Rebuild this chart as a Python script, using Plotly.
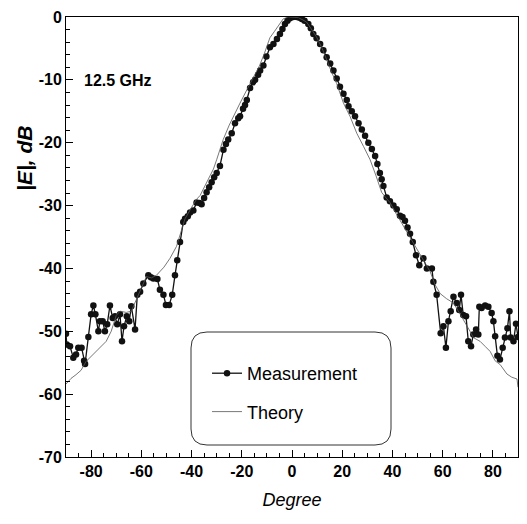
import plotly.graph_objects as go

# Measurement (degree, dB)
meas_deg = [-90, -89.7, -88.4, -87.1, -86, -85.1, -83.8, -82.8, -82.4, -81.1, -80, -79.1, -78.3,
            -77.1, -76.5, -75.4, -74.5, -73.6, -72.5, -71.4, -70.5, -69.6, -68.5, -67.7, -66.9,
            -65.8, -64.8, -64, -62.5, -61.6, -60.5, -59.2, -57.2, -56.2, -55.2, -53.6, -52.6, -51.2,
            -50.2, -48.9, -47.7, -46.6, -45.7, -44.6, -43.3, -42.6, -41.5, -40.6, -39.3, -38,
            -36.8, -36, -35, -34, -33, -32, -31, -30, -28.7, -27.3, -26.3, -25.4, -24, -22.7,
            -21.4, -20.7, -19.5, -18.7, -18, -16.7, -15.5, -14.7, -13.5, -12.7, -11.4, -10.2,
            -8.8, -7.4, -6, -4.8, -3.8, -2.8, -1.8, -0.8, 0.5, 1.9, 3, 3.9, 5, 6.5, 7.5, 8.5,
            9.8, 11.2, 12.5, 13.8, 15.2, 16.5, 17.8, 19.1, 20.5, 21.8, 22.5, 23.8, 25.1, 26.5,
            27.8, 29.1, 30.4, 31.8, 33.1, 34, 35, 35.7, 36.4, 37.7, 39, 40.4, 41.7, 43, 44, 45,
            46, 47, 48.1, 49.4, 50.7, 52.3, 53.7, 55.7, 56.3, 57.6, 59.2, 60.3, 61.3, 62.3, 63.2,
            64.3, 65.6, 66.6, 67.3, 68.2, 69.3, 70.2, 71.3, 72.2, 73.3, 74.2, 74.6, 75.5, 76.9,
            78.2, 79.5, 80.2, 80.9, 81.8, 82.8, 83.9, 84.8, 85.8, 86.6, 87.1, 88.2, 89.2, 90]
meas_db = [-50.4, -52.1, -52.4, -54.2, -53.7, -52.6, -52.6, -54.7, -55.2, -50.9, -47.3, -45.9, -47.3,
           -50.0, -48.4, -48.4, -50.0, -48.9, -45.9, -47.9, -47.6, -48.9, -47.3, -51.6, -49.2,
           -47.6, -48.4, -46.0, -49.7, -44.2, -43.7, -42.4, -41.1, -41.4, -41.6, -41.7, -43.4, -44.2,
           -45.8, -45.8, -44.2, -41.1, -38.7, -35.8, -32.6, -32.1, -31.7, -31.1, -30.8, -29.5,
           -29.6, -29.8, -28.8, -27.9, -27.1, -26.3, -25.5, -24.8, -23.7, -21.1, -20.2, -19.5, -18.5,
           -16.9, -16.1, -15.8, -14.6, -14.0, -13.2, -11.3, -10.4, -10.0, -9.2, -8.5, -7.7, -6.3,
           -4.8, -4.3, -3.5, -2.7, -1.9, -1.1, -0.6, -0.2, 0.0, 0.0, -0.1, -0.3, -0.6, -1.1, -1.8,
           -2.7, -3.4, -4.3, -5.3, -6.4, -7.4, -8.5, -9.8, -11.1, -12.2, -13.2, -14.2, -15.0, -15.8,
           -16.9, -17.9, -18.9, -20.0, -21.0, -22.1, -23.4, -24.8, -25.8, -26.9, -28.7, -29.3, -30.0,
           -30.6, -31.6, -31.8, -32.4, -33.5, -34.5, -35.8, -37.9, -39.5, -38.4, -40.0, -40.0, -42.1,
           -44.2, -50.3, -49.2, -52.6, -48.4, -46.8, -44.5, -45.5, -46.6, -44.2, -47.4, -47.6, -51.6,
           -52.4, -50.5, -49.7, -50.5, -46.1, -46.3, -45.9, -46.1, -47.1, -48.4, -50.8, -53.9, -54.5,
           -52.6, -51.0, -49.5, -46.8, -51.0, -51.6, -48.8, -50.9]

# Theory (degree, dB)
theo_deg = [-90, -88, -86, -84, -82, -80, -78, -76, -74, -72, -70, -68.5, -66, -64, -62, -60.5,
            -58, -56, -54, -51, -48.6, -46, -44, -42.6, -40, -38, -36.6, -34, -31.3, -30, -27.4,
            -25, -23.4, -20.7, -18, -15.4, -13, -11, -8.8, -7, -5, -3.5, -1.5, 0.5, 2.5, 4, 5.8,
            7.5, 9.8, 12, 13.8, 15.8, 17.8, 20.5, 23.1, 25.8, 28.5, 31.1, 33.5, 35.7, 37.5, 39,
            41.5, 44.3, 47, 49.7, 52.5, 55, 57, 59, 61.5, 64.3, 67, 69, 70.9, 72.2, 74.9, 76.9,
            78.9, 80.9, 82.9, 85.6, 87.5, 89.6, 90]
theo_db = [-58.4, -57.5, -56.9, -56.2, -54.8, -54.0, -53.2, -52.5, -51.6, -50.0, -47.5, -46.8,
           -47.0, -46.8, -45.0, -43.7, -41.3, -41.5, -41.1, -39.8, -38.4, -36.5, -34.0, -32.1,
           -30.3, -29.0, -28.4, -26.3, -24.2, -22.7, -19.5, -17.2, -15.8, -13.7, -11.6, -9.5,
           -7.8, -5.8, -3.3, -2.3, -1.1, -0.3, 0.0, 0.0, -0.1, -0.4, -0.8, -1.8, -3.2, -5.0, -6.9,
           -8.8, -10.6, -13.7, -15.8, -18.5, -20.6, -22.7, -25.3, -27.9, -28.8, -29.5, -31.3,
           -33.2, -35.0, -36.9, -38.8, -40.5, -42.6, -44.0, -44.8, -45.5, -47.3, -48.6, -50.0,
           -51.0, -51.6, -52.4, -53.2, -54.7, -55.3, -56.8, -57.3, -57.6, -58.9]

x_ticks = [-80, -60, -40, -20, 0, 20, 40, 60, 80]
y_ticks = [0, -10, -20, -30, -40, -50, -60, -70]

PW, PH = 452, 440  # plot-area size in px
BOT = 457          # plot-area bottom in screen px

fig = go.Figure()
fig.add_trace(go.Scatter(x=meas_deg, y=meas_db, mode="lines+markers", name="Measurement",
                         line=dict(color="#111111", width=1.3),
                         marker=dict(color="#111111", size=6.5, symbol="circle"),
                         legendgroup="a"))
fig.add_trace(go.Scatter(x=theo_deg, y=theo_db, mode="lines", name="Theory",
                         line=dict(color="#555555", width=0.8), legendgroup="b"))

# rounded legend box (paper coords)
x0, x1, y0, y1 = (191 - 66) / PW, (391 - 66) / PW, (BOT - 445) / PH, (BOT - 332) / PH
rx, ry = 16 / PW, 16 / PH
path = (f"M {x0+rx},{y1} L {x1-rx},{y1} Q {x1},{y1} {x1},{y1-ry} L {x1},{y0+ry} "
        f"Q {x1},{y0} {x1-rx},{y0} L {x0+rx},{y0} Q {x0},{y0} {x0},{y0+ry} L {x0},{y1-ry} "
        f"Q {x0},{y1} {x0+rx},{y1} Z")
fig.add_shape(type="path", path=path, xref="paper", yref="paper",
              line=dict(color="#333333", width=1))

fig.add_annotation(x=(118 - 66) / PW, y=(BOT - 80) / PH, xref="paper", yref="paper",
                   xanchor="center", yanchor="middle", text="12.5 GHz", showarrow=False,
                   font=dict(family="Arial", size=16, color="black", weight="bold"))
fig.add_annotation(x=(24 - 66) / PW, y=(BOT - 159) / PH, xref="paper", yref="paper",
                   xanchor="center", yanchor="middle",
                   text="<i>|E|, dB</i>", textangle=-90, showarrow=False,
                   font=dict(family="Arial", size=21, color="black", weight="bold"))

axis_common = dict(showline=True, linecolor="black", linewidth=1, mirror=True,
                   ticks="inside", ticklen=7, tickcolor="black", showgrid=False, zeroline=False,
                   automargin=False, ticklabeloverflow="allow",
                   tickfont=dict(family="Arial", size=16, color="black", weight="bold"))
fig.update_xaxes(range=[-90, 90], tickvals=x_ticks, ticktext=[str(v) for v in x_ticks],
                 minor=dict(ticks="inside", ticklen=4, dtick=5, tickcolor="black"),
                 title=dict(text="<i>Degree</i>", font=dict(family="Arial", size=18, color="black"),
                            standoff=14),
                 **axis_common)
fig.update_yaxes(range=[-70, 0], tickvals=y_ticks, ticktext=[str(v) for v in y_ticks],
                 minor=dict(ticks="inside", ticklen=4, dtick=2, tickcolor="black"),
                 **axis_common)

# page body has an 8px margin, so the figure is offset by 8px
fig.update_layout(width=519, height=516, margin=dict(l=58, r=9, t=9, b=67),
                  paper_bgcolor="white", plot_bgcolor="white",
                  legend=dict(x=0.312, y=(BOT - 355) / PH, xanchor="left", yanchor="top",
                              bgcolor="rgba(0,0,0,0)", borderwidth=0, traceorder="grouped",
                              tracegroupgap=12, itemwidth=30,
                              font=dict(family="Arial", size=18, color="black")),
                  showlegend=True)
fig.write_html("out.html")
